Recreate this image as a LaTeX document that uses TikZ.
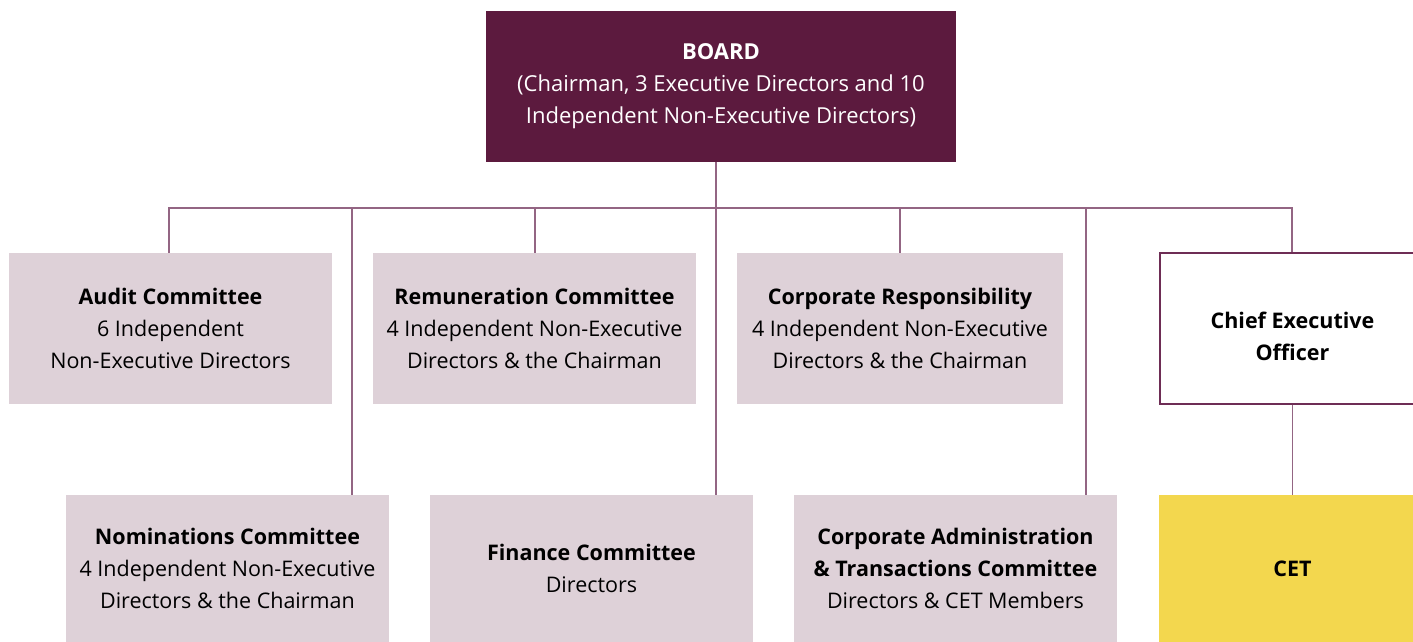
\documentclass[tikz,border=0pt]{standalone}
\usepackage{fontspec}
\setmainfont{Open Sans}
\definecolor{boardc}{HTML}{5C1A3E}
\definecolor{boxc}{HTML}{DED1D8}
\definecolor{cetc}{HTML}{F3D74E}
\definecolor{linec}{HTML}{936583}
\definecolor{ceoline}{HTML}{6E2D55}
\begin{document}
\begin{tikzpicture}[x=1pt,y=-1pt,
  base/.style={rectangle, inner sep=0pt, align=center, font=\fontsize{21.5}{32}\selectfont},
  comm/.style={base, fill=boxc, text=black, minimum width=323pt, minimum height=151pt},
  commlow/.style={base, fill=boxc, text=black, minimum width=323pt, minimum height=147pt},
  conn/.style={draw=linec, line width=1.2pt}
]
\useasboundingbox (0,0) rectangle (1413,642);
\node[base, font=\fontsize{22}{32}\selectfont, fill=boardc, text=white, minimum width=470pt, minimum height=151pt] (board) at (721,86.5)
  {\textbf{BOARD}\\(Chairman, 3 Executive Directors and 10\\Independent Non-Executive Directors)};
\node[comm] (audit) at (170.5,328.5) {\textbf{Audit Committee}\\6 Independent\\Non-Executive Directors};
\node[comm] (remun) at (534.5,328.5) {\textbf{Remuneration Committee}\\4 Independent Non-Executive\\Directors \& the Chairman};
\node[comm, minimum width=326pt] (corpresp) at (900,328.5) {\textbf{Corporate Responsibility}\\4 Independent Non-Executive\\Directors \& the Chairman};
\node[base, draw=ceoline, line width=1.2pt, fill=white, minimum width=265pt, minimum height=151pt] (ceo) at (1292.5,328.5)
  {\rule{0pt}{32pt}\textbf{Chief Executive}\\\textbf{Officer}};
\node[commlow] (nom) at (227.5,568.5) {\textbf{Nominations Committee}\\4 Independent Non-Executive\\Directors \& the Chairman};
\node[commlow] (fin) at (591.5,568.5) {\textbf{Finance Committee}\\Directors};
\node[commlow] (corpadm) at (955.5,568.5) {\textbf{Corporate Administration}\\\textbf{\& Transactions Committee}\\Directors \& CET Members};
\node[base, fill=cetc, text=black, minimum width=267pt, minimum height=147pt] (cet) at (1292.5,568.5) {\textbf{CET}};
\coordinate (busL) at (169,208);
\coordinate (busR) at (1292,208);
\coordinate (jnom) at (352,208);
\coordinate (jrem) at (535,208);
\coordinate (jfin) at (716,208);
\coordinate (jcr) at (900,208);
\coordinate (jadm) at (1086,208);
\draw[conn] (audit.north -| busL) -- (busL) -- (busR) -- (ceo.north -| busR);
\draw[conn] (board.south -| jfin) -- (fin.north -| jfin);
\draw[conn] (jnom) -- (nom.north -| jnom);
\draw[conn] (jrem) -- (remun.north -| jrem);
\draw[conn] (jcr) -- (corpresp.north -| jcr);
\draw[conn] (jadm) -- (corpadm.north -| jadm);
\draw[conn] (ceo.south) -- (cet.north);
\end{tikzpicture}
\end{document}
